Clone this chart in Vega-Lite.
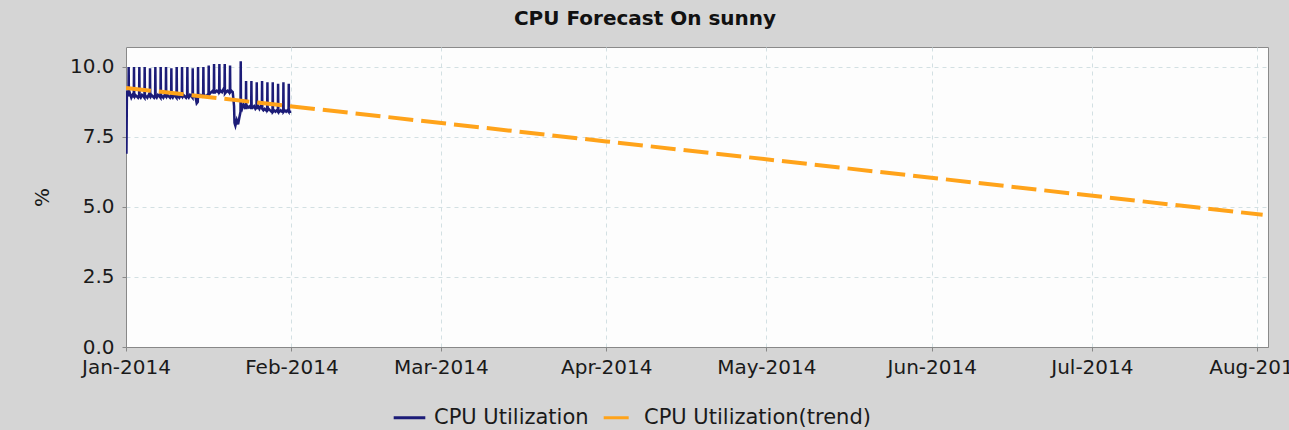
{
  "$schema": "https://vega.github.io/schema/vega-lite/v6.json",
  "autosize": {"type": "none"},
  "width": 1142,
  "height": 300,
  "padding": {"left": 126, "top": 47, "right": 21, "bottom": 83},
  "background": "#d5d5d5",
  "title": {"text": "CPU Forecast On sunny", "font": "DejaVu Sans", "fontWeight": "bold", "fontSize": 20, "color": "#111", "anchor": "middle", "dx": -52, "baseline": "alphabetic", "offset": 2},
  "config": {
    "view": {"fill": "#fdfdfd", "stroke": "#8a8a8a"},
    "axis": {"domainColor": "#888", "tickColor": "#888", "tickSize": 4, "gridColor": "#d3e0e3", "gridDash": [4, 4], "labelColor": "#1a1a1a", "labelFont": "DejaVu Sans", "labelFontSize": 20, "titleFont": "DejaVu Sans", "titleFontSize": 20, "titleFontWeight": "normal", "titleColor": "#1a1a1a"},
    "legend": {"labelFont": "DejaVu Sans", "labelFontSize": 21, "labelColor": "#1a1a1a", "labelLimit": 400}
  },
  "datasets": {
    "cpu": [
      {"t":"2014-01-01T00:00","v":9.15},{"t":"2014-01-01T02:00","v":6.9},{"t":"2014-01-01T04:00","v":8.95},{"t":"2014-01-01T11:00","v":9.0},{"t":"2014-01-01T12:00","v":10.0},{"t":"2014-01-01T13:00","v":8.95},{"t":"2014-01-01T18:00","v":9.05},
      {"t":"2014-01-02T00:00","v":8.9},{"t":"2014-01-02T06:00","v":9.0},{"t":"2014-01-02T11:00","v":8.95},{"t":"2014-01-02T12:00","v":10.0},{"t":"2014-01-02T13:00","v":8.9},{"t":"2014-01-02T18:00","v":9.0},
      {"t":"2014-01-03T00:00","v":8.95},{"t":"2014-01-03T06:00","v":8.9},{"t":"2014-01-03T11:00","v":9.0},{"t":"2014-01-03T12:00","v":10.0},{"t":"2014-01-03T13:00","v":8.95},{"t":"2014-01-03T18:00","v":8.9},
      {"t":"2014-01-04T00:00","v":9.0},{"t":"2014-01-04T06:00","v":8.95},{"t":"2014-01-04T11:00","v":8.9},{"t":"2014-01-04T12:00","v":10.0},{"t":"2014-01-04T13:00","v":9.0},{"t":"2014-01-04T18:00","v":8.95},
      {"t":"2014-01-05T00:00","v":8.9},{"t":"2014-01-05T06:00","v":9.0},{"t":"2014-01-05T11:00","v":8.95},{"t":"2014-01-05T12:00","v":9.95},{"t":"2014-01-05T13:00","v":8.9},{"t":"2014-01-05T18:00","v":9.0},
      {"t":"2014-01-06T00:00","v":8.95},{"t":"2014-01-06T06:00","v":8.9},{"t":"2014-01-06T11:00","v":9.0},{"t":"2014-01-06T12:00","v":10.0},{"t":"2014-01-06T13:00","v":8.95},{"t":"2014-01-06T18:00","v":8.9},
      {"t":"2014-01-07T00:00","v":9.0},{"t":"2014-01-07T06:00","v":8.95},{"t":"2014-01-07T11:00","v":8.9},{"t":"2014-01-07T12:00","v":10.0},{"t":"2014-01-07T13:00","v":9.0},{"t":"2014-01-07T18:00","v":8.95},
      {"t":"2014-01-08T00:00","v":8.9},{"t":"2014-01-08T06:00","v":9.0},{"t":"2014-01-08T11:00","v":8.95},{"t":"2014-01-08T12:00","v":10.0},{"t":"2014-01-08T13:00","v":8.9},{"t":"2014-01-08T18:00","v":9.0},
      {"t":"2014-01-09T00:00","v":8.95},{"t":"2014-01-09T06:00","v":8.9},{"t":"2014-01-09T11:00","v":9.0},{"t":"2014-01-09T12:00","v":9.95},{"t":"2014-01-09T13:00","v":8.95},{"t":"2014-01-09T18:00","v":8.9},
      {"t":"2014-01-10T00:00","v":9.0},{"t":"2014-01-10T06:00","v":8.95},{"t":"2014-01-10T11:00","v":8.9},{"t":"2014-01-10T12:00","v":10.0},{"t":"2014-01-10T13:00","v":9.0},{"t":"2014-01-10T18:00","v":8.95},
      {"t":"2014-01-11T00:00","v":8.9},{"t":"2014-01-11T06:00","v":9.0},{"t":"2014-01-11T11:00","v":8.95},{"t":"2014-01-11T12:00","v":10.0},{"t":"2014-01-11T13:00","v":8.9},{"t":"2014-01-11T18:00","v":9.0},
      {"t":"2014-01-12T00:00","v":8.95},{"t":"2014-01-12T06:00","v":8.9},{"t":"2014-01-12T11:00","v":9.0},{"t":"2014-01-12T12:00","v":10.0},{"t":"2014-01-12T13:00","v":8.95},{"t":"2014-01-12T18:00","v":8.9},
      {"t":"2014-01-13T00:00","v":9.0},{"t":"2014-01-13T06:00","v":8.95},{"t":"2014-01-13T11:00","v":8.9},{"t":"2014-01-13T12:00","v":9.95},{"t":"2014-01-13T13:00","v":9.0},{"t":"2014-01-13T18:00","v":8.95},
      {"t":"2014-01-14T00:00","v":8.95},{"t":"2014-01-14T06:00","v":8.7},{"t":"2014-01-14T11:00","v":8.75},{"t":"2014-01-14T12:00","v":10.0},{"t":"2014-01-14T13:00","v":8.9},{"t":"2014-01-14T18:00","v":9.0},
      {"t":"2014-01-15T00:00","v":9.0},{"t":"2014-01-15T06:00","v":8.95},{"t":"2014-01-15T11:00","v":9.0},{"t":"2014-01-15T12:00","v":10.0},{"t":"2014-01-15T13:00","v":9.05},{"t":"2014-01-15T18:00","v":8.95},
      {"t":"2014-01-16T00:00","v":8.95},{"t":"2014-01-16T06:00","v":9.0},{"t":"2014-01-16T11:00","v":8.9},{"t":"2014-01-16T12:00","v":10.05},{"t":"2014-01-16T13:00","v":9.0},{"t":"2014-01-16T18:00","v":9.05},
      {"t":"2014-01-17T00:00","v":9.1},{"t":"2014-01-17T06:00","v":9.15},{"t":"2014-01-17T11:00","v":9.05},{"t":"2014-01-17T12:00","v":10.1},{"t":"2014-01-17T13:00","v":9.15},{"t":"2014-01-17T18:00","v":9.1},
      {"t":"2014-01-18T00:00","v":9.15},{"t":"2014-01-18T06:00","v":9.1},{"t":"2014-01-18T11:00","v":9.2},{"t":"2014-01-18T12:00","v":10.1},{"t":"2014-01-18T13:00","v":9.1},{"t":"2014-01-18T18:00","v":9.15},
      {"t":"2014-01-19T00:00","v":9.1},{"t":"2014-01-19T06:00","v":9.2},{"t":"2014-01-19T11:00","v":9.15},{"t":"2014-01-19T12:00","v":10.1},{"t":"2014-01-19T13:00","v":9.05},{"t":"2014-01-19T18:00","v":9.1},
      {"t":"2014-01-20T00:00","v":9.15},{"t":"2014-01-20T06:00","v":9.1},{"t":"2014-01-20T11:00","v":9.2},{"t":"2014-01-20T12:00","v":10.05},{"t":"2014-01-20T13:00","v":9.1},{"t":"2014-01-20T18:00","v":9.15},
      {"t":"2014-01-21T00:00","v":9.1},{"t":"2014-01-21T06:00","v":8.6},{"t":"2014-01-21T08:00","v":8.0},{"t":"2014-01-21T12:00","v":7.9},{"t":"2014-01-21T18:00","v":8.1},
      {"t":"2014-01-22T00:00","v":7.95},{"t":"2014-01-22T06:00","v":8.2},{"t":"2014-01-22T11:00","v":8.4},{"t":"2014-01-22T12:00","v":10.2},{"t":"2014-01-22T13:00","v":8.6},{"t":"2014-01-22T18:00","v":8.5},
      {"t":"2014-01-23T00:00","v":8.65},{"t":"2014-01-23T06:00","v":8.55},{"t":"2014-01-23T11:00","v":8.6},{"t":"2014-01-23T12:00","v":9.5},{"t":"2014-01-23T13:00","v":8.5},{"t":"2014-01-23T18:00","v":8.6},
      {"t":"2014-01-24T00:00","v":8.55},{"t":"2014-01-24T06:00","v":8.6},{"t":"2014-01-24T11:00","v":8.5},{"t":"2014-01-24T12:00","v":9.5},{"t":"2014-01-24T13:00","v":8.6},{"t":"2014-01-24T18:00","v":8.55},
      {"t":"2014-01-25T00:00","v":8.6},{"t":"2014-01-25T06:00","v":8.5},{"t":"2014-01-25T11:00","v":8.55},{"t":"2014-01-25T12:00","v":9.45},{"t":"2014-01-25T13:00","v":8.5},{"t":"2014-01-25T18:00","v":8.6},
      {"t":"2014-01-26T00:00","v":8.5},{"t":"2014-01-26T06:00","v":8.6},{"t":"2014-01-26T11:00","v":8.55},{"t":"2014-01-26T12:00","v":9.5},{"t":"2014-01-26T13:00","v":8.5},{"t":"2014-01-26T18:00","v":8.45},
      {"t":"2014-01-27T00:00","v":8.5},{"t":"2014-01-27T06:00","v":8.45},{"t":"2014-01-27T11:00","v":8.5},{"t":"2014-01-27T12:00","v":9.45},{"t":"2014-01-27T13:00","v":8.45},{"t":"2014-01-27T18:00","v":8.5},
      {"t":"2014-01-28T00:00","v":8.45},{"t":"2014-01-28T06:00","v":8.4},{"t":"2014-01-28T11:00","v":8.45},{"t":"2014-01-28T12:00","v":9.45},{"t":"2014-01-28T13:00","v":8.4},{"t":"2014-01-28T18:00","v":8.45},
      {"t":"2014-01-29T00:00","v":8.4},{"t":"2014-01-29T06:00","v":8.45},{"t":"2014-01-29T11:00","v":8.4},{"t":"2014-01-29T12:00","v":9.4},{"t":"2014-01-29T13:00","v":8.45},{"t":"2014-01-29T18:00","v":8.4},
      {"t":"2014-01-30T00:00","v":8.45},{"t":"2014-01-30T06:00","v":8.4},{"t":"2014-01-30T11:00","v":8.4},{"t":"2014-01-30T12:00","v":9.45},{"t":"2014-01-30T13:00","v":8.4},{"t":"2014-01-30T18:00","v":8.45},
      {"t":"2014-01-31T00:00","v":8.4},{"t":"2014-01-31T06:00","v":8.45},{"t":"2014-01-31T11:00","v":8.4},{"t":"2014-01-31T12:00","v":9.4},{"t":"2014-01-31T13:00","v":8.4},{"t":"2014-01-31T18:00","v":8.4},{"t":"2014-01-31T23:00","v":8.4}
    ],
    "trend": [
      {"t":"2014-01-01T00:00","v":9.25},
      {"t":"2014-04-01T00:00","v":7.34},
      {"t":"2014-08-02T00:00","v":4.72}
    ]
  },
  "layer": [
    {
      "data": {"name": "cpu"},
      "mark": {"type": "line", "strokeWidth": 2.5, "clip": true},
      "encoding": {
        "x": {"field": "t", "type": "temporal", "scale": {"domain": [{"year": 2014, "month": 1, "date": 1}, {"year": 2014, "month": 8, "date": 3}]},
          "axis": {"title": null, "format": "%b-%Y", "tickCount": {"interval": "month", "step": 1}, "labelOverlap": false, "labelBound": false, "labelFlush": false, "labelPadding": 6, "grid": true}},
        "y": {"field": "v", "type": "quantitative", "scale": {"domain": [0, 10.71], "nice": false},
          "axis": {"title": "%", "values": [0, 2.5, 5, 7.5, 10], "format": ".1f", "labelPadding": 8, "titleX": -84, "titleY": 150, "titleAlign": "center", "titleBaseline": "middle"}},
        "color": {"datum": "CPU Utilization", "scale": {"domain": ["CPU Utilization", "CPU Utilization(trend)"], "range": ["#1c1c78", "#ffa31a"]},
          "legend": {"title": null, "orient": "none", "direction": "horizontal", "legendX": 266, "legendY": 353, "symbolType": "stroke", "symbolSize": 1000, "symbolStrokeWidth": 3, "labelOffset": 7, "columnPadding": 8, "labelLimit": 400}},
        "strokeDash": {"datum": "CPU Utilization", "scale": {"domain": ["CPU Utilization", "CPU Utilization(trend)"], "range": [[1, 0], [25, 8]]},
          "legend": {"title": null, "orient": "none", "direction": "horizontal", "legendX": 266, "legendY": 353, "symbolType": "stroke", "symbolSize": 1000, "symbolStrokeWidth": 3, "labelOffset": 7, "columnPadding": 8, "labelLimit": 400}}
      }
    },
    {
      "data": {"name": "trend"},
      "mark": {"type": "line", "strokeWidth": 4, "clip": true},
      "encoding": {
        "x": {"field": "t", "type": "temporal"},
        "y": {"field": "v", "type": "quantitative"},
        "color": {"datum": "CPU Utilization(trend)"},
        "strokeDash": {"datum": "CPU Utilization(trend)"}
      }
    }
  ]
}
